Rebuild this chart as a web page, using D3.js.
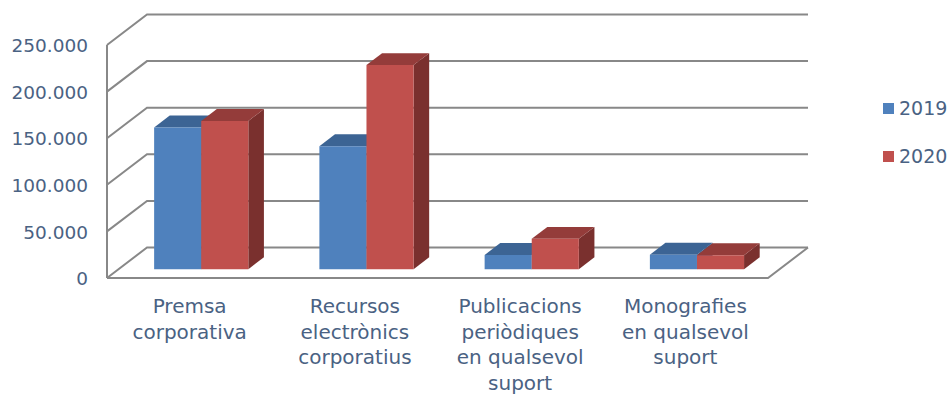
<!DOCTYPE html>
<html>
<head>
<meta charset="utf-8">
<script src="https://cdn.jsdelivr.net/npm/d3@7"></script>
<style>
  html, body { margin: 0; padding: 0; background: #fff; }
  svg { display: block; }
  text { font-family: "DejaVu Sans", sans-serif; fill: #4A6283; }
</style>
</head>
<body>
<svg id="chart" width="950" height="396"></svg>
<script>
// Category labels, one entry of lines per category
const categories = [
  ["Premsa", "corporativa"],
  ["Recursos", "electrònics", "corporatius"],
  ["Publicacions", "periòdiques", "en qualsevol", "suport"],
  ["Monografies", "en qualsevol", "suport"]
];
const seriesNames = ["2019", "2020"];
const values2019 = [152000, 132000, 15300, 15500];
const values2020 = [159000, 219000, 32500, 15000];
const yTicks = [0, 50000, 100000, 150000, 200000, 250000];

const seriesColors = {
  "2019": { front: "#4F81BD", top: "#3C6494", side: "#345580" },
  "2020": { front: "#C0504D", top: "#943C3A", side: "#7A302E" }
};

// Oblique 3D layout: front plane + depth vector
const left = 107, right = 768, base = 278, topY = 45;
const DX = 40, DY = -30.5;
const barFront = 0.29, barBack = 0.68;
const gridColor = "#888888";

const svg = d3.select("#chart");
const catKeys = categories.map(c => c.join(" "));

const y = d3.scaleLinear().domain([0, 250000]).range([base, topY]);
const x = d3.scaleBand().domain(catKeys).range([left, right])
  .paddingInner(0.43).paddingOuter(0.215);
const xs = d3.scaleBand().domain(seriesNames).range([0, x.bandwidth()]);

const P = (px, py, d) => [px + d * DX, py + d * DY];
const line = d3.line();

// Walls: side diagonals, back-wall gridlines
const grid = svg.append("g").attr("fill", "none")
  .attr("stroke", gridColor).attr("stroke-width", 2);
yTicks.forEach(t => {
  grid.append("path").attr("d", line([P(left, y(t), 0), P(left, y(t), 1), P(right, y(t), 1)]));
});
// left front edge of the side wall
grid.append("path").attr("d", line([P(left, y(250000), 0), P(left, y(0), 0)]));
// floor front and right edges
grid.append("path").attr("d", line([P(left, y(0), 0), P(right, y(0), 0), P(right, y(0), 1)]));

// Bars
const rows = catKeys.map((k, i) => ({ key: k, v: { "2019": values2019[i], "2020": values2020[i] } }));
const bars = svg.append("g");
rows.forEach(r => {
  seriesNames.forEach(s => {
    const x0 = x(r.key) + xs(s), x1 = x0 + xs.bandwidth();
    const yv = y(r.v[s]), y0 = y(0);
    const c = seriesColors[s];
    const g = bars.append("g");
    g.append("path").attr("fill", c.side)
      .attr("d", line([P(x1, yv, barFront), P(x1, yv, barBack), P(x1, y0, barBack), P(x1, y0, barFront)]) + "Z");
    g.append("path").attr("fill", c.top)
      .attr("d", line([P(x0, yv, barFront), P(x1, yv, barFront), P(x1, yv, barBack), P(x0, yv, barBack)]) + "Z");
    g.append("path").attr("fill", c.front)
      .attr("d", line([P(x0, yv, barFront), P(x1, yv, barFront), P(x1, y0, barFront), P(x0, y0, barFront)]) + "Z");
  });
});

// Value axis labels
const fmt = d3.formatLocale({ decimal: ",", thousands: ".", grouping: [3], currency: ["", "€"] }).format(",d");
const yAxis = svg.append("g").attr("transform", "translate(88,0)")
  .call(d3.axisLeft(y).tickValues(yTicks).tickFormat(fmt).tickSize(0).tickPadding(0));
yAxis.select(".domain").remove();
yAxis.selectAll("text").attr("font-size", 18.5).attr("fill", "#4A6283")
  .style("font-family", "'DejaVu Sans', sans-serif").attr("dy", "0.36em");

// Category labels
const catLabels = svg.append("g").attr("font-size", 20).attr("text-anchor", "middle");
categories.forEach((lines, i) => {
  const t = catLabels.append("text").attr("x", x(catKeys[i]) + x.bandwidth() / 2);
  lines.forEach((ln, j) => t.append("tspan")
    .attr("x", x(catKeys[i]) + x.bandwidth() / 2)
    .attr("y", 313 + j * 25.7).text(ln));
});

// Legend
const legend = svg.append("g").attr("font-size", 19);
seriesNames.forEach((s, i) => {
  const ly = 103 + i * 48;
  legend.append("rect").attr("x", 883).attr("y", ly).attr("width", 11).attr("height", 11)
    .attr("fill", seriesColors[s].front);
  legend.append("text").attr("x", 899).attr("y", ly + 12).text(s);
});
</script>
</body>
</html>
